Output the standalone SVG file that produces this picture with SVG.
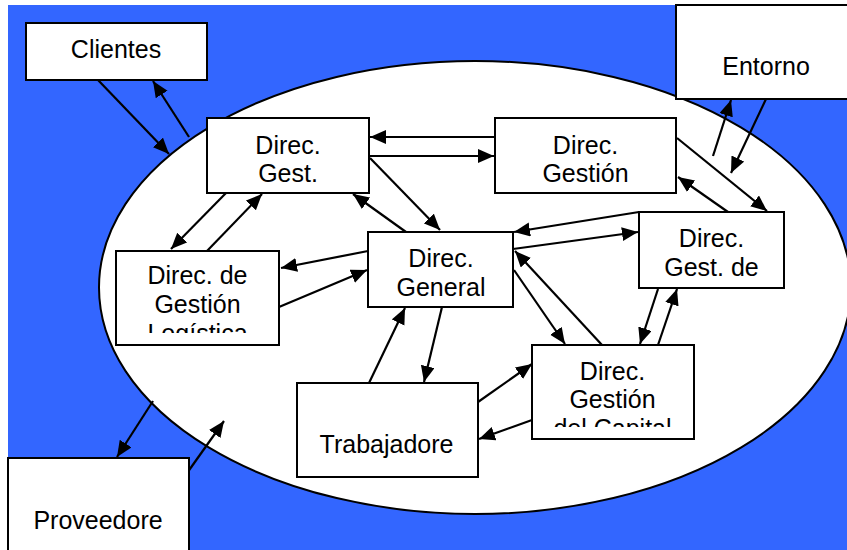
<svg xmlns="http://www.w3.org/2000/svg" width="847" height="550" viewBox="0 0 847 550">
<style>
.box{fill:#fff;stroke:#000;stroke-width:2}
.t{font-family:"Liberation Sans",Arial,sans-serif;font-size:25px;fill:#000;text-anchor:middle}
.c line{stroke:#000;stroke-width:2.2;marker-end:url(#ah)}
</style>
<defs>
<marker id="ah" markerUnits="userSpaceOnUse" markerWidth="17" markerHeight="15" refX="16" refY="7" orient="auto">
<path d="M0,0 L16,7 L0,14 z" fill="#000"/>
</marker>
<clipPath id="clipLog"><rect x="116" y="251" width="164" height="82"/></clipPath>
<clipPath id="clipCap"><rect x="532" y="345" width="162" height="82"/></clipPath>
</defs>
<rect width="847" height="550" fill="#fff"/>
<rect x="8" y="5" width="839" height="545" fill="#3366FF"/>
<ellipse cx="475" cy="287.5" rx="376" ry="226.5" fill="#fff" stroke="#000" stroke-width="2"/>

<g class="c" id="connectors">
<line x1="98" y1="80" x2="169" y2="154"/>
<line x1="189" y1="137" x2="153" y2="81"/>
<line x1="495" y1="137" x2="370" y2="137"/>
<line x1="369" y1="156" x2="494" y2="156"/>
<line x1="370" y1="158" x2="440" y2="230"/>
<line x1="406" y1="232" x2="353" y2="194"/>
<line x1="226" y1="193" x2="171" y2="249"/>
<line x1="207" y1="251" x2="262" y2="194"/>
<line x1="368" y1="251" x2="281" y2="268"/>
<line x1="279" y1="307" x2="367" y2="270"/>
<line x1="639" y1="212" x2="514" y2="232"/>
<line x1="513" y1="249" x2="638" y2="232"/>
<line x1="677" y1="138" x2="767" y2="211"/>
<line x1="728" y1="212" x2="678" y2="177"/>
<line x1="713" y1="156" x2="731" y2="100"/>
<line x1="766" y1="99" x2="731" y2="173"/>
<line x1="514" y1="270" x2="565" y2="344"/>
<line x1="602" y1="345" x2="515" y2="251"/>
<line x1="658" y1="289" x2="640" y2="344"/>
<line x1="658" y1="345" x2="677" y2="289"/>
<line x1="369" y1="383" x2="405" y2="308"/>
<line x1="442" y1="307" x2="424" y2="382"/>
<line x1="478" y1="402" x2="532" y2="364"/>
<line x1="532" y1="420" x2="479" y2="439"/>
<line x1="153" y1="401" x2="117" y2="457"/>
<line x1="170" y1="497" x2="224" y2="421"/>
</g>

<g id="clientes">
<rect class="box" x="26" y="23" width="181" height="57"/>
<text class="t" x="116" y="58">Clientes</text>
</g>
<g id="entorno">
<rect class="box" x="676" y="5" width="175" height="94"/>
<text class="t" x="766" y="75">Entorno</text>
</g>
<g id="direc-gest">
<rect class="box" x="207" y="118" width="162" height="75"/>
<text class="t" x="288" y="154">Direc.</text>
<text class="t" x="288" y="182">Gest.</text>
</g>
<g id="direc-gestion">
<rect class="box" x="495" y="118" width="181" height="75"/>
<text class="t" x="585.5" y="154">Direc.</text>
<text class="t" x="585.5" y="182">Gestión</text>
</g>
<g id="direc-logistica">
<rect class="box" x="116" y="251" width="163" height="94"/>
<g clip-path="url(#clipLog)">
<text class="t" x="197.5" y="284">Direc. de</text>
<text class="t" x="197.5" y="313">Gestión</text>
<text class="t" x="197.5" y="342">Logística</text>
</g>
</g>
<g id="direc-general">
<rect class="box" x="368" y="232" width="145" height="75"/>
<text class="t" x="441" y="267">Direc.</text>
<text class="t" x="441" y="296">General</text>
</g>
<g id="direc-gest-de">
<rect class="box" x="639" y="212" width="145" height="76"/>
<text class="t" x="711.5" y="247">Direc.</text>
<text class="t" x="711.5" y="276">Gest. de</text>
</g>
<g id="direc-capital">
<rect class="box" x="532" y="345" width="162" height="94"/>
<g clip-path="url(#clipCap)">
<text class="t" x="612.5" y="380">Direc.</text>
<text class="t" x="612.5" y="408">Gestión</text>
<text class="t" x="612.5" y="437">del Capital</text>
</g>
</g>
<g id="trabajadore">
<rect class="box" x="297" y="383" width="181" height="94"/>
<text class="t" x="386.5" y="453">Trabajadore</text>
</g>
<g id="proveedore">
<rect class="box" x="8" y="458" width="181" height="96"/>
<text class="t" x="98" y="529">Proveedore</text>
</g>
</svg>
